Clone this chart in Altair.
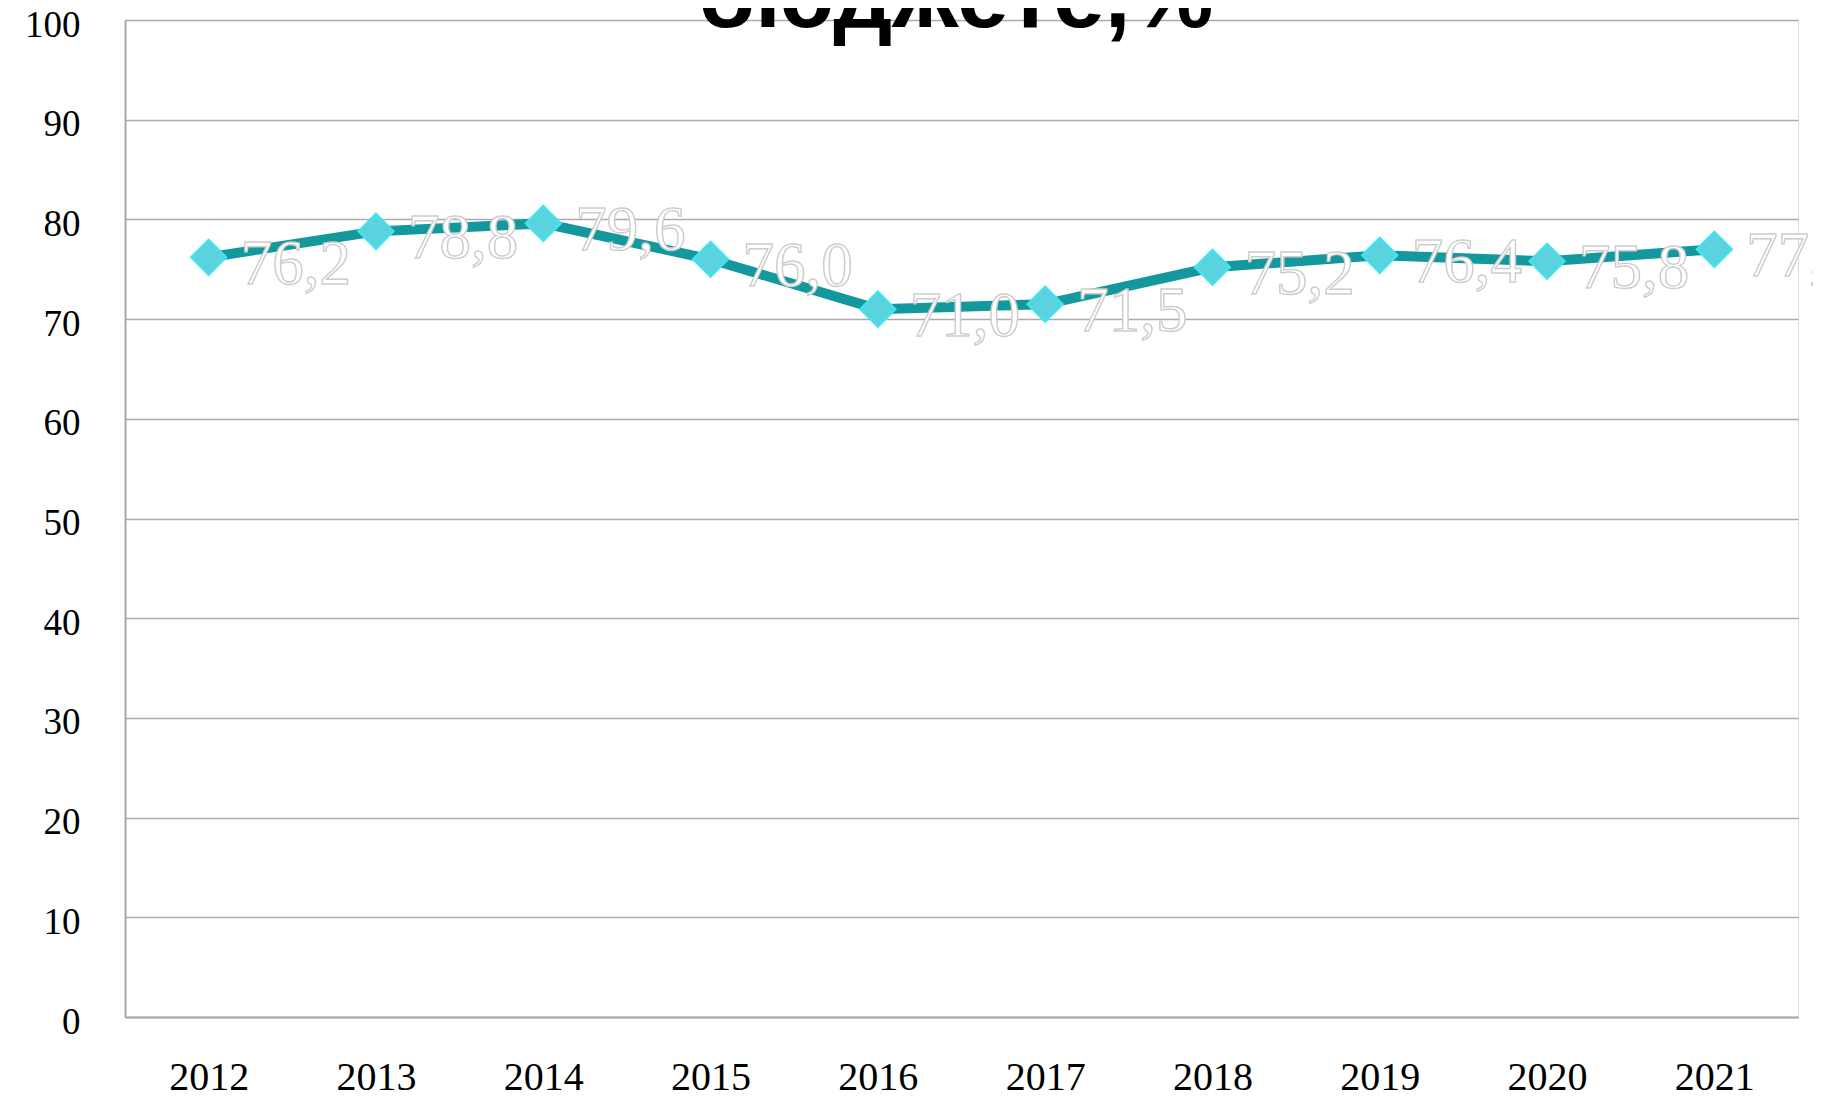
import altair as alt
import pandas as pd

years = ["2012", "2013", "2014", "2015", "2016", "2017", "2018", "2019", "2020", "2021"]
values = [76.2, 78.8, 79.6, 76.0, 71.0, 71.5, 75.2, 76.4, 75.8, 77.0]
labels = [f"{v:.1f}".replace(".", ",") for v in values]
title_text = "бюджете,%"

df = pd.DataFrame({"year": years, "value": values, "label": labels})

W, H = 1673, 997

x = alt.X("year:O", sort=years, title=None,
          scale=alt.Scale(type="point", padding=0.5),
          axis=alt.Axis(labelAngle=0, labelFont="Liberation Serif", labelFontSize=40,
                        labelColor="black", labelPadding=40, ticks=False,
                        domainColor="#a8a8a8", domainWidth=2, grid=False))
y = alt.Y("value:Q", title=None,
          scale=alt.Scale(domain=[0, 100], nice=False, zero=True),
          axis=alt.Axis(values=list(range(0, 101, 10)), labelFont="Liberation Serif",
                        labelFontSize=37, labelColor="black", labelPadding=45, ticks=False,
                        labelOffset=5,
                        domainColor="#a8a8a8", domainWidth=2,
                        gridColor="#aaaaaa", gridWidth=1.6))

base = alt.Chart(df)

line = base.mark_line(color="#13989d", strokeWidth=10).encode(x=x, y=y)
points = base.mark_point(shape="diamond", size=1250, filled=True, fill="#5ad3df",
                         stroke="#3fe6f0", strokeWidth=2, opacity=1).encode(x=x, y=y)
text = base.mark_text(align="left", baseline="alphabetic", dx=32, dy=27,
                      font="Liberation Serif", fontSize=63, fill="white",
                      stroke="#cccccc", strokeWidth=1.4).encode(x=x, y=y, text="label:N")

title = alt.Chart(pd.DataFrame({"t": [title_text]})).mark_text(
    align="center", baseline="alphabetic", font="Liberation Sans", fontWeight="bold",
    fontSize=93, color="black").encode(
    x=alt.value(W / 2 - 6), y=alt.value(7), text="t:N")

chart = alt.layer(line, points, text, title).properties(
    width=W, height=H,
    padding={"left": 117, "top": 12, "right": 15, "bottom": 80},
    autosize=alt.AutoSizeParams(type="none"),
).configure_view(stroke=None).configure(background="white")

chart.save("out.html", embed_options={"renderer": "svg", "actions": False})
